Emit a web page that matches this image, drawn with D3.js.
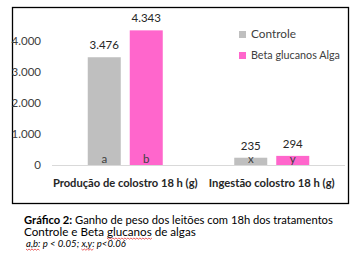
<!DOCTYPE html>
<html>
<head>
<meta charset="utf-8">
<script src="https://cdn.jsdelivr.net/npm/d3@7"></script>
<style>
  body { margin: 0; background: #fff; }
  svg { display: block; font-family: Lato, "Open Sans", sans-serif; }
</style>
</head>
<body>
<div id="chart"></div>
<script>
// data
let categories = ["Produção de colostro 18 h (g)", "Ingestão colostro 18 h (g)"];
let series = ["Controle", "Beta glucanos Alga"];
let controle = [3476, 235];
let betaGlucanos = [4343, 294];
let letrasControle = ["a", "x"];
let letrasBeta = ["b", "y"];
let yTicks = [0, 1000, 2000, 3000, 4000];
let caption = ["Gráfico 2:", " Ganho de peso dos leitões com 18h dos tratamentos"];
let caption2 = "Controle e Beta glucanos de algas";
let caption3 = ["a,b", ": p < 0.05; ", "x,y", ": p<0.06"];

let colors = ["#bfbfbf", "#ff66cc"];
let width = 363, height = 269;

let locale = d3.formatLocale({decimal: ",", thousands: ".", grouping: [3], currency: ["", ""]});
let fmt = locale.format(",d");

let svg = d3.select("#chart").append("svg")
    .attr("width", width)
    .attr("height", height);

svg.append("rect").attr("width", width).attr("height", height).attr("fill", "#fff");

// scale a text's font so it spans the wanted width
function fit(sel, w) {
    sel.each(function () {
        let fs = parseFloat(d3.select(this).attr("font-size"));
        let len = this.getComputedTextLength();
        d3.select(this).attr("font-size", fs * w / len);
    });
}

// chart frame
svg.append("rect")
    .attr("x", 12.5).attr("y", 7.5)
    .attr("width", 336).attr("height", 196)
    .attr("fill", "#fff")
    .attr("stroke", "#000")
    .attr("stroke-width", 1.3);

let x = d3.scaleBand().domain(categories).range([52, 345]);
let bw = x.bandwidth();
let xs = d3.scaleBand().domain(series).range([bw / 2 - 37.5, bw / 2 + 37.5]).paddingInner(9 / 42);
let y = d3.scaleLinear().domain([0, 4000]).range([165, 41]);

// y tick labels
svg.append("g").selectAll("text")
    .data(yTicks)
    .enter().append("text")
    .attr("x", 41)
    .attr("y", d => y(d))
    .attr("dy", "0.35em")
    .attr("text-anchor", "end")
    .attr("font-size", 11.5)
    .attr("fill", "#404040")
    .text(d => fmt(d));

// bars
let rows = [];
categories.forEach((c, i) => {
    rows.push({cat: c, s: series[0], v: controle[i], l: letrasControle[i], c: colors[0]});
    rows.push({cat: c, s: series[1], v: betaGlucanos[i], l: letrasBeta[i], c: colors[1]});
});

let bar = svg.append("g").selectAll("g")
    .data(rows)
    .enter().append("g")
    .attr("transform", d => "translate(" + (x(d.cat) + xs(d.s)) + ",0)");

bar.append("rect")
    .attr("y", d => y(d.v))
    .attr("width", xs.bandwidth())
    .attr("height", d => y(0) - y(d.v))
    .attr("fill", d => d.c);

bar.append("text")
    .attr("x", xs.bandwidth() / 2)
    .attr("y", d => y(d.v) - 8)
    .attr("text-anchor", "middle")
    .attr("font-size", 11.5)
    .attr("fill", "#262626")
    .text(d => fmt(d.v));

bar.append("text")
    .attr("x", xs.bandwidth() / 2)
    .attr("y", 162.5)
    .attr("text-anchor", "middle")
    .attr("font-size", 11.5)
    .attr("fill", "#404040")
    .text(d => d.l);

// baseline
svg.append("line")
    .attr("x1", 52).attr("x2", 345)
    .attr("y1", y(0) + 0.5).attr("y2", y(0) + 0.5)
    .attr("stroke", "#d9d9d9");

// category labels
let catWidths = [145, 126];
svg.append("g").selectAll("text")
    .data(categories)
    .enter().append("text")
    .attr("x", d => x(d) + bw / 2)
    .attr("y", 187)
    .attr("text-anchor", "middle")
    .attr("font-size", 11)
    .attr("font-weight", "bold")
    .attr("fill", "#262626")
    .text(d => d)
    .each(function (d, i) { fit(d3.select(this), catWidths[i]); });

// legend
let legWidths = [45, 89];
let legend = svg.append("g").selectAll("g")
    .data(series)
    .enter().append("g")
    .attr("transform", (d, i) => "translate(242," + (34 + i * 21) + ")");
legend.append("rect")
    .attr("x", -3).attr("y", -3)
    .attr("width", 7).attr("height", 7)
    .attr("fill", (d, i) => colors[i]);
legend.append("text")
    .attr("x", 9)
    .attr("dy", "0.35em")
    .attr("font-size", 11)
    .attr("fill", "#404040")
    .text(d => d)
    .each(function (d, i) { fit(d3.select(this), legWidths[i]); });

// caption
function wavy(x1, x2, yy) {
    let p = "M" + x1 + "," + yy;
    for (let xx = x1, k = 0; xx < x2; xx += 1.5, k++) {
        p += "L" + (xx + 1.5) + "," + (yy + (k % 2 ? 0 : 1.2));
    }
    svg.append("path").attr("d", p).attr("fill", "none")
        .attr("stroke", "#e02020").attr("stroke-width", 0.7);
}

let t1 = svg.append("text")
    .attr("x", 24).attr("y", 224)
    .attr("font-size", 11).attr("fill", "#000");
t1.append("tspan").attr("font-weight", "bold").text(caption[0]);
t1.append("tspan").text(caption[1]);
fit(t1, 309);

let t2 = svg.append("text")
    .attr("x", 24).attr("y", 235.5)
    .attr("font-size", 11).attr("fill", "#000")
    .text(caption2);
fit(t2, 172);
let gi = caption2.indexOf("glucanos");
let g0 = t2.node().getStartPositionOfChar(gi).x;
let g1 = t2.node().getEndPositionOfChar(gi + 7).x;
wavy(g0, g1, 238);

let t3 = svg.append("text")
    .attr("x", 26).attr("y", 246.5)
    .attr("font-size", 9.5).attr("font-style", "italic").attr("fill", "#000");
caption3.forEach(s => t3.append("tspan").text(s));
fit(t3, 100);
let n3 = t3.node();
let ab0 = n3.getStartPositionOfChar(0).x, ab1 = n3.getEndPositionOfChar(2).x;
let xi = caption3[0].length + caption3[1].length;
let xy0 = n3.getStartPositionOfChar(xi).x, xy1 = n3.getEndPositionOfChar(xi + 2).x;
wavy(ab0, ab1, 249);
wavy(xy0, xy1, 249);
</script>
</body>
</html>
